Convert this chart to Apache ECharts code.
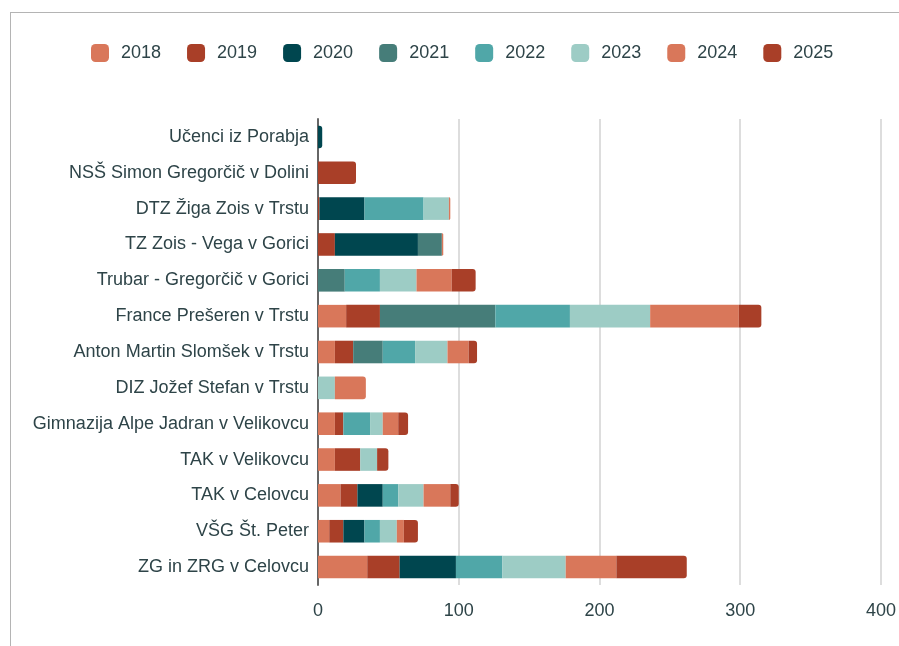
<!DOCTYPE html>
<html>
<head>
<meta charset="utf-8">
<script src="https://cdn.jsdelivr.net/npm/echarts@6/dist/echarts.min.js"></script>
<style>
  html, body { margin: 0; padding: 0; background: #fff; overflow: hidden; }
  #frame {
    position: absolute; left: 10px; top: 12px;
    width: 1000px; height: 1000px;
    border-left: 1px solid #b4b4b4; border-top: 1px solid #b4b4b4;
  }
  #chart { position: absolute; left: 0; top: 0; width: 899px; height: 646px; }
</style>
</head>
<body>
<div id="frame"></div>
<div id="chart"></div>
<script>
const schools = [
  'Učenci iz Porabja',
  'NSŠ Simon Gregorčič v Dolini',
  'DTZ Žiga Zois v Trstu',
  'TZ Zois - Vega v Gorici',
  'Trubar - Gregorčič v Gorici',
  'France Prešeren v Trstu',
  'Anton Martin Slomšek v Trstu',
  'DIZ Jožef Stefan v Trstu',
  'Gimnazija Alpe Jadran v Velikovcu',
  'TAK v Velikovcu',
  'TAK v Celovcu',
  'VŠG Št. Peter',
  'ZG in ZRG v Celovcu'
];

const years = ['2018', '2019', '2020', '2021', '2022', '2023', '2024', '2025'];

// one array per year, same order as schools
const y2018 = [0, 0, 0, 0, 0, 20, 12, 0, 12, 12, 16, 8, 35];
const y2019 = [0, 27, 1, 12, 0, 24, 13, 0, 6, 18, 12, 10, 23];
const y2020 = [3, 0, 32, 59, 0, 0, 0, 0, 0, 0, 18, 15, 40];
const y2021 = [0, 0, 0, 17, 19, 82, 21, 0, 0, 0, 0, 0, 0];
const y2022 = [0, 0, 42, 0, 25, 53, 23, 0, 19, 0, 11, 11, 33];
const y2023 = [0, 0, 18, 0, 26, 57, 23, 12, 9, 12, 18, 12, 45];
const y2024 = [0, 0, 1, 1, 25, 63, 15, 22, 11, 0, 19, 5, 36];
const y2025 = [0, 0, 0, 0, 17, 16, 6, 0, 7, 8, 6, 10, 50];

const valueTicks = [0, 100, 200, 300, 400];

const colors = ['#d9775a', '#a93f28', '#00464f', '#467d79', '#50a7a8', '#9dccc5', '#d9775a', '#a93f28'];
const textColor = '#2e4448';
const font = 'Liberation Sans, Arial, sans-serif';

const yearData = [y2018, y2019, y2020, y2021, y2022, y2023, y2024, y2025];

// last non-zero segment of each row gets the rounded end
const lastIdx = schools.map((_, i) => {
  let last = -1;
  yearData.forEach((arr, s) => { if (arr[i] > 0) last = s; });
  return last;
});

const series = years.map((yr, s) => ({
  name: yr,
  type: 'bar',
  stack: 'total',
  barCategoryGap: '37%',
  itemStyle: { color: colors[s] },
  data: yearData[s].map((v, i) => ({
    value: v,
    itemStyle: lastIdx[i] === s ? { borderRadius: [0, 3, 3, 0] } : {}
  }))
}));

const chartInstance = echarts.init(document.getElementById('chart'));

chartInstance.setOption({
  animation: false,
  color: colors,
  textStyle: { fontFamily: font },
  legend: {
    data: years,
    left: 91,
    top: 44,
    padding: 0,
    itemWidth: 18,
    itemHeight: 18,
    itemGap: 26,
    icon: 'roundRect',
    textStyle: {
      fontSize: 18, lineHeight: 18, color: textColor, fontFamily: font,
      padding: [0, 0, 0, 7]
    }
  },
  grid: {
    left: 318,
    right: 14,
    top: 119,
    bottom: 61,
    containLabel: false
  },
  xAxis: {
    type: 'value',
    min: valueTicks[0],
    max: valueTicks[valueTicks.length - 1],
    interval: 100,
    axisLine: { show: false },
    axisTick: { show: false },
    axisLabel: { fontSize: 18, color: textColor, fontFamily: font, margin: 17 },
    splitLine: { lineStyle: { color: '#d2d2d2', width: 1.5 } }
  },
  yAxis: {
    type: 'category',
    data: schools,
    inverse: true,
    axisLine: { show: true, lineStyle: { color: '#666', width: 2 } },
    axisTick: { show: false },
    axisLabel: { fontSize: 18, color: textColor, fontFamily: font, margin: 9 }
  },
  series: series
});
</script>
</body>
</html>
